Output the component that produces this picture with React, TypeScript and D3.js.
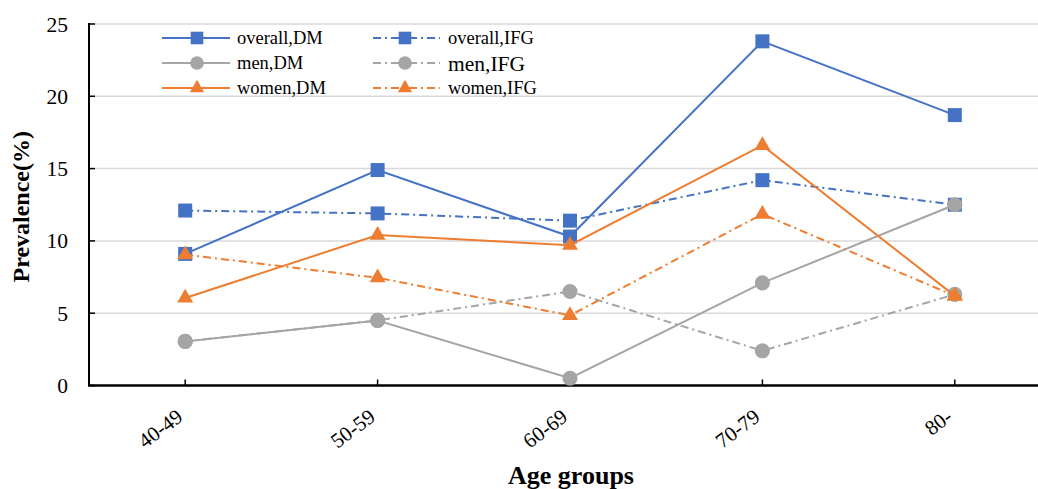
import * as d3 from "d3";

// Age group categories on the x axis
const ageGroups = ["40-49", "50-59", "60-69", "70-79", "80-"];
const yTicks = [0, 5, 10, 15, 20, 25];

// Prevalence (%)
const overallDM = [9.1, 14.9, 10.3, 23.8, 18.7];
const overallIFG = [12.1, 11.9, 11.4, 14.2, 12.5];
const menDM = [3.05, 4.5, 0.5, 7.1, 12.5];
const menIFG = [3.05, 4.5, 6.5, 2.4, 6.3];
const womenDM = [6.05, 10.4, 9.7, 16.6, 6.2];
const womenIFG = [9.05, 7.45, 4.85, 11.85, 6.2];

const BLUE = "#4472C4";
const GRAY = "#A5A5A5";
const ORANGE = "#ED7D31";

type Shape = "square" | "circle" | "triangle";

interface Series {
  name: string;
  values: number[];
  color: string;
  shape: Shape;
  dashed: boolean;
}

// Excel order: row-wise legend fill, later series drawn on top
const series: Series[] = [
  { name: "overall,DM", values: overallDM, color: BLUE, shape: "square", dashed: false },
  { name: "overall,IFG", values: overallIFG, color: BLUE, shape: "square", dashed: true },
  { name: "men,DM", values: menDM, color: GRAY, shape: "circle", dashed: false },
  { name: "men,IFG", values: menIFG, color: GRAY, shape: "circle", dashed: true },
  { name: "women,DM", values: womenDM, color: ORANGE, shape: "triangle", dashed: false },
  { name: "women,IFG", values: womenIFG, color: ORANGE, shape: "triangle", dashed: true },
];

const width = 1038;
const height = 489;
const marginLeft = 89;
const plotRight = 1051; // plot runs past the visible edge
const yTop = 24;
const yBottom = 385.5;

const DASH = "8,4,2,4";
const FONT = "'Liberation Serif', 'Times New Roman', serif";

const symbolPath = (shape: Shape) => {
  const type = shape === "square" ? d3.symbolSquare : shape === "circle" ? d3.symbolCircle : d3.symbolTriangle;
  const size = shape === "square" ? 196 : shape === "circle" ? 180 : 110;
  return d3.symbol(type, size)() || "";
};

export default function App() {
  const x = d3.scaleBand<string>().domain(ageGroups).range([marginLeft, plotRight]);
  const y = d3.scaleLinear().domain([0, 25]).range([yBottom, yTop]);
  const cx = (g: string) => (x(g) || 0) + x.bandwidth() / 2;

  const line = d3
    .line<number>()
    .x((_, i) => cx(ageGroups[i]))
    .y((v) => y(v));

  // legend: two columns, three rows
  const legendRows = [38, 63, 88];
  const legendCols = [
    { x1: 162, x2: 230, mark: 197, text: 237 },
    { x1: 373, x2: 440, mark: 405, text: 448 },
  ];

  return (
    <svg
      width={width}
      height={height}
      style={{ position: "absolute", left: 0, top: 0, background: "#fff" }}
      fontFamily={FONT}
    >
      {/* gridlines */}
      {yTicks.slice(1).map((t) => (
        <line key={t} x1={marginLeft} x2={width} y1={y(t)} y2={y(t)} stroke="#D9D9D9" strokeWidth={1.5} />
      ))}

      {/* y axis */}
      <line x1={marginLeft} x2={marginLeft} y1={yTop - 1} y2={yBottom} stroke="#000" strokeWidth={2} />
      {yTicks.map((t) => (
        <g key={t}>
          <line x1={marginLeft} x2={marginLeft + 6} y1={y(t)} y2={y(t)} stroke="#000" strokeWidth={1.5} />
          <text x={68} y={y(t)} dy="0.35em" textAnchor="end" fontSize={21.5}>
            {t}
          </text>
        </g>
      ))}

      {/* x axis */}
      <line x1={marginLeft - 1} x2={width} y1={yBottom} y2={yBottom} stroke="#000" strokeWidth={2.5} />
      {ageGroups.map((g) => (
        <g key={g}>
          <line x1={cx(g)} x2={cx(g)} y1={yBottom} y2={yBottom - 6} stroke="#000" strokeWidth={1.5} />
          <text
            transform={`translate(${cx(g) - 1},${yBottom + 34}) rotate(-37)`}
            textAnchor="end"
            fontSize={21}
          >
            {g}
          </text>
        </g>
      ))}

      {/* axis titles */}
      <text
        transform={`translate(29,${(yTop + yBottom) / 2 + 2}) rotate(-90)`}
        textAnchor="middle"
        fontSize={24}
        fontWeight="bold"
      >
        Prevalence(%)
      </text>
      <text x={571} y={484} textAnchor="middle" fontSize={26} fontWeight="bold">
        Age groups
      </text>

      {/* series */}
      {series.map((s) => (
        <g key={s.name}>
          <path
            d={line(s.values) || ""}
            fill="none"
            stroke={s.color}
            strokeWidth={2}
            strokeDasharray={s.dashed ? DASH : undefined}
          />
          {s.values.map((v, i) => (
            <path
              key={i}
              d={symbolPath(s.shape)}
              transform={`translate(${cx(ageGroups[i])},${y(v)})`}
              fill={s.color}
            />
          ))}
        </g>
      ))}

      {/* legend */}
      {series.map((s, i) => {
        const col = legendCols[i % 2];
        const ry = legendRows[Math.floor(i / 2)];
        return (
          <g key={s.name}>
            <line
              x1={col.x1}
              x2={col.x2}
              y1={ry}
              y2={ry}
              stroke={s.color}
              strokeWidth={2}
              strokeDasharray={s.dashed ? DASH : undefined}
            />
            <path d={symbolPath(s.shape)} transform={`translate(${col.mark},${ry}) scale(0.9)`} fill={s.color} />
            <text x={col.text} y={ry} dy="0.35em" fontSize={s.name === "men,IFG" ? 21.5 : 18.5}>
              {s.name}
            </text>
          </g>
        );
      })}
    </svg>
  );
}
